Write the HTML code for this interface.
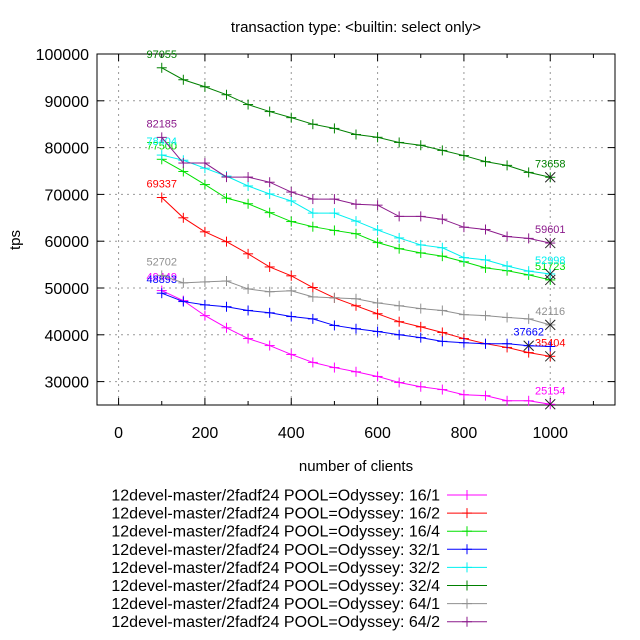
<!DOCTYPE html>
<html><head><meta charset="utf-8"><style>
html,body{margin:0;padding:0;background:#fff;}
svg{display:block;font-family:"Liberation Sans",sans-serif;}
</style></head><body>
<svg id="chart" width="640" height="640" viewBox="0 0 640 640">
<rect x="0" y="0" width="640" height="640" fill="#fff"/>
<text x="356" y="32" font-size="15" text-anchor="middle">transaction type: &lt;builtin: select only&gt;</text>
<g id="grid"></g>
<g id="axes"></g>
<g id="series"></g>
<text x="356" y="471" font-size="15" text-anchor="middle">number of clients</text>
<text x="20" y="240" font-size="15" text-anchor="middle" transform="rotate(-90 20 240)">tps</text>
<g id="legend"></g>
</svg>
<script>
const clients = [100,150,200,250,300,350,400,450,500,550,600,650,700,750,800,850,900,950,1000];
const seriesNames = ["12devel-master/2fadf24 POOL=Odyssey: 16/1","12devel-master/2fadf24 POOL=Odyssey: 16/2","12devel-master/2fadf24 POOL=Odyssey: 16/4","12devel-master/2fadf24 POOL=Odyssey: 32/1","12devel-master/2fadf24 POOL=Odyssey: 32/2","12devel-master/2fadf24 POOL=Odyssey: 32/4","12devel-master/2fadf24 POOL=Odyssey: 64/1","12devel-master/2fadf24 POOL=Odyssey: 64/2"];
const s16_1 = [49449,47300,44100,41500,39200,37700,35800,34100,33000,32100,31100,29800,28900,28300,27200,27000,25900,25900,25154];
const s16_2 = [69337,65000,62000,59900,57300,54500,52600,50100,47900,46200,44500,42800,41700,40500,39200,38100,37300,36200,35404];
const s16_4 = [77500,74900,72100,69200,68000,66100,64200,63100,62300,61600,59700,58400,57500,56800,55600,54300,53700,52800,51723];
const s32_1 = [48893,47100,46400,46000,45200,44700,43900,43400,42000,41300,40700,40000,39400,38600,38300,38100,38100,37662,37500];
const s32_2 = [78404,77300,75600,73900,71800,70100,68600,66000,66000,64300,62400,60700,59200,58600,56500,56000,54700,53600,52998];
const s32_4 = [97055,94500,93000,91300,89200,87700,86400,85000,84100,82800,82200,81100,80500,79400,78300,77000,76200,74700,73658];
const s64_1 = [52702,51100,51300,51500,49800,49200,49400,48100,47900,47700,46800,46200,45600,45200,44300,44100,43700,43400,42116];
const s64_2 = [82185,76700,76700,73700,73700,72600,70500,69000,69000,67900,67700,65300,65300,64700,63000,62500,61000,60600,59601];
const allSeries = [s16_1,s16_2,s16_4,s32_1,s32_2,s32_4,s64_1,s64_2];
const colors = ["#ff00ff","#ff0000","#00e000","#0000ff","#00f0f0","#008000","#909090","#8b1a8b"];
const labelIdx = [18,18,18,17,18,18,18,18];
const xTicks = [0,200,400,600,800,1000];
const yTicks = [30000,40000,50000,60000,70000,80000,90000,100000];

const L=97,R=615,T=54,B=405;
const xMin=-50,xMax=1150,yMin=25000,yMax=100000;
const X=v=>L+(v-xMin)/(xMax-xMin)*(R-L);
const Y=v=>B-(v-yMin)/(yMax-yMin)*(B-T);
const NS="http://www.w3.org/2000/svg";
function mk(tag,attrs,parent){const e=document.createElementNS(NS,tag);for(const k in attrs)e.setAttribute(k,attrs[k]);parent.appendChild(e);return e;}
const grid=document.getElementById('grid'),axes=document.getElementById('axes'),ser=document.getElementById('series'),leg=document.getElementById('legend');

xTicks.forEach(t=>{
  const g=mk('line',{x1:X(t),x2:X(t),y1:T,y2:B,stroke:'#999','stroke-dasharray':'2,4','stroke-width':1},grid);
  
  
  mk('line',{x1:X(t),x2:X(t),y1:B,y2:B-7,stroke:'#000'},axes);
  mk('line',{x1:X(t),x2:X(t),y1:T,y2:T+7,stroke:'#000'},axes);
  const lb=mk('text',{x:X(t),y:B+33,'font-size':16,'text-anchor':'middle'},axes);
  lb.textContent=t;
  
  
});
[100,300,500,700,900,1100].forEach(t=>{
  mk('line',{x1:X(t),x2:X(t),y1:B,y2:B-4,stroke:'#000'},axes);
  mk('line',{x1:X(t),x2:X(t),y1:T,y2:T+4,stroke:'#000'},axes);
});
yTicks.forEach(t=>{
  const g=mk('line',{x1:L,x2:R,y1:Y(t),y2:Y(t),stroke:'#999','stroke-dasharray':'2,4','stroke-width':1},grid);
  
  
  mk('line',{x1:L,x2:L+7,y1:Y(t),y2:Y(t),stroke:'#000'},axes);
  mk('line',{x1:R,x2:R-7,y1:Y(t),y2:Y(t),stroke:'#000'},axes);
  const lb=mk('text',{x:L-8,y:Y(t)+6,'font-size':16,'text-anchor':'end'},axes);
  lb.textContent=t;
  
  
});
const frame=mk('rect',{x:L,y:T,width:R-L,height:B-T,fill:'none',stroke:'#000','stroke-width':1},axes);



function plus(x,y,c,p){mk('line',{x1:x-5,x2:x+5,y1:y,y2:y,stroke:c},p);mk('line',{x1:x,x2:x,y1:y-5,y2:y+5,stroke:c},p);}
allSeries.forEach((s,i)=>{
  const c=colors[i];
  const g=mk('g',{},ser);
  
  
  const pts=s.map((v,j)=>X(clients[j])+','+Y(v)).join(' ');
  mk('polyline',{points:pts,fill:'none',stroke:c,'stroke-width':1},g);
  s.forEach((v,j)=>plus(X(clients[j]),Y(v),c,g));
  const li=labelIdx[i];
  const xx=X(clients[li]),yy=Y(s[li]);
  mk('line',{x1:xx-5,x2:xx+5,y1:yy-5,y2:yy+5,stroke:'#222'},g);
  mk('line',{x1:xx-5,x2:xx+5,y1:yy+5,y2:yy-5,stroke:'#222'},g);
  [0,li].forEach(k=>{
    const t=mk('text',{x:X(clients[k]),y:Y(s[k])-10,'font-size':11,'text-anchor':'middle',fill:c},g);
    t.textContent=s[k];
    
    
  });
});
seriesNames.forEach((n,i)=>{
  const y=495+i*18.1;
  const g=mk('g',{},leg);
  
  
  const t=mk('text',{x:440,y:y+5.5,'font-size':16,'text-anchor':'end'},g);
  t.textContent=n;
  mk('line',{x1:447,x2:487,y1:y,y2:y,stroke:colors[i]},g);
  plus(467,y,colors[i],g);
});
</script>
</body></html>
